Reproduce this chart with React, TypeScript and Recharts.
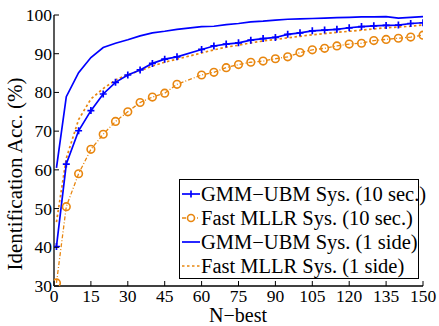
import { LineChart, Line, XAxis, YAxis } from "recharts";

const nBest = [1, 5, 10, 15, 20, 25, 30, 35, 40, 45, 50, 60, 65, 70, 75, 80, 85, 90, 95, 100, 105, 110, 115, 120, 125, 130, 135, 140, 145, 150];
const gmm10 = [40.2, 61.5, 70.1, 75.3, 79.6, 82.6, 84.5, 85.8, 87.5, 88.6, 89.2, 91.1, 92.0, 92.5, 92.8, 93.5, 93.9, 94.2, 95.0, 95.4, 95.9, 96.1, 96.3, 96.7, 97.0, 97.2, 97.3, 97.4, 97.8, 98.0];
const mllr10 = [30.8, 50.5, 59.0, 65.3, 69.2, 72.5, 75.0, 77.4, 78.8, 79.8, 82.1, 84.5, 85.2, 86.4, 87.2, 87.8, 88.1, 88.7, 89.2, 90.3, 91.0, 91.4, 92.0, 92.5, 92.7, 93.4, 93.7, 94.0, 94.3, 94.8];
const gmmSide = [60.5, 78.9, 85.1, 89.0, 91.6, 92.7, 93.6, 94.6, 95.4, 95.8, 96.3, 97.0, 97.1, 97.5, 97.8, 98.2, 98.4, 98.7, 98.9, 99.0, 99.1, 99.2, 99.3, 99.4, 99.5, 99.5, 99.6, 99.2, 99.4, 99.6];
const mllrSide = [46.5, 63.0, 73.0, 78.3, 81.0, 83.2, 84.6, 85.6, 86.8, 87.8, 88.6, 90.2, 91.0, 91.7, 92.2, 92.8, 93.3, 93.7, 94.1, 94.5, 94.9, 95.2, 95.5, 95.8, 96.1, 96.4, 96.7, 96.9, 97.1, 97.4];

const xTicks = [0, 15, 30, 45, 60, 75, 90, 105, 120, 135, 150];
const yTicks = [30, 40, 50, 60, 70, 80, 90, 100];

const legendLabels = [
  "GMM\u2212UBM Sys. (10 sec.)",
  "Fast MLLR Sys. (10 sec.)",
  "GMM\u2212UBM Sys. (1 side)",
  "Fast MLLR Sys. (1 side)",
];

const data = nBest.map((n, i) => ({
  n,
  gmm10: gmm10[i],
  mllr10: mllr10[i],
  gmmSide: gmmSide[i],
  mllrSide: mllrSide[i],
}));

const BLUE = "#0000ff";
const ORANGE = "#e8860f";
const FONT = "Liberation Serif, DejaVu Serif, serif";
const TICK = 5;

function PlusDot(props: any) {
  const { cx, cy } = props;
  if (cx == null || cy == null) return null;
  return (
    <path
      d={`M${cx - 3.5},${cy}H${cx + 3.5}M${cx},${cy - 3.5}V${cy + 3.5}`}
      stroke={BLUE}
      strokeWidth={1.7}
    />
  );
}

function CircleDot(props: any) {
  const { cx, cy } = props;
  if (cx == null || cy == null) return null;
  return <circle cx={cx} cy={cy} r={3.8} fill="none" stroke={ORANGE} strokeWidth={1.6} />;
}

function BottomTick(props: any) {
  const { x, y, payload } = props;
  return (
    <g>
      <line x1={x} x2={x} y1={y} y2={y - TICK} stroke="#000" />
      <text x={x} y={y + 16} textAnchor="middle" style={{ fontFamily: FONT, fontSize: 17.5 }} fill="#000">
        {payload.value}
      </text>
    </g>
  );
}

function LeftTick(props: any) {
  const { x, y, payload } = props;
  return (
    <g>
      <line x1={x} x2={x + TICK} y1={y} y2={y} stroke="#000" />
      <text x={x - 2} y={y + 6} textAnchor="end" style={{ fontFamily: FONT, fontSize: 17.5 }} fill="#000">
        {payload.value}
      </text>
    </g>
  );
}

function TopTick(props: any) {
  const { x, y } = props;
  return <line x1={x} x2={x} y1={y} y2={y + TICK} stroke="#000" />;
}

function RightTick(props: any) {
  const { x, y } = props;
  return <line x1={x} x2={x - TICK} y1={y} y2={y} stroke="#000" />;
}

function Sample({ index }: { index: number }) {
  return (
    <svg width={18} height={12} style={{ display: "block", flex: "none" }}>
      {index === 0 && (
        <>
          <line x1={0} x2={18} y1={6} y2={6} stroke={BLUE} strokeWidth={1.7} />
          <path d="M9,2.5V9.5" stroke={BLUE} strokeWidth={1.7} />
        </>
      )}
      {index === 1 && (
        <>
          <line x1={0} x2={18} y1={6} y2={6} stroke={ORANGE} strokeWidth={1.3} strokeDasharray="4 2 1 2" />
          <circle cx={9} cy={6} r={3.5} fill="#fff" stroke={ORANGE} strokeWidth={1.6} />
        </>
      )}
      {index === 2 && <line x1={0} x2={18} y1={6} y2={6} stroke={BLUE} strokeWidth={1.7} />}
      {index === 3 && (
        <line x1={0} x2={18} y1={6} y2={6} stroke={ORANGE} strokeWidth={1.7} strokeDasharray="2.5 2.5" />
      )}
    </svg>
  );
}

function LegendBox() {
  return (
    <div
      style={{
        position: "absolute",
        left: 179,
        top: 179,
        width: 238,
        height: 96,
        border: "1.5px solid #000",
        background: "#fff",
        fontFamily: FONT,
        fontSize: 20.5,
        color: "#000",
        paddingTop: 2,
      }}
    >
      {legendLabels.map((label, i) => (
        <div key={label} style={{ display: "flex", alignItems: "center", height: 24, paddingLeft: 2 }}>
          <Sample index={i} />
          <span style={{ marginLeft: 1, whiteSpace: "nowrap", lineHeight: "24px" }}>{label}</span>
        </div>
      ))}
    </div>
  );
}

export default function App() {
  return (
    <div style={{ position: "absolute", left: 0, top: 0, width: 439, height: 326, background: "#fff" }}>
      <LineChart width={439} height={326} data={data} margin={{ top: 15, right: 16, bottom: 0, left: 0 }}>
        <XAxis
          dataKey="n"
          type="number"
          domain={[0, 150]}
          ticks={xTicks}
          interval={0}
          height={40}
          tickSize={0}
          tickMargin={0}
          tickLine={false}
          axisLine={{ stroke: "#000", strokeWidth: 1.3 }}
          tick={<BottomTick />}
          allowDataOverflow
        />
        <XAxis
          xAxisId="top"
          orientation="top"
          dataKey="n"
          type="number"
          domain={[0, 150]}
          ticks={xTicks}
          interval={0}
          height={0}
          tickSize={0}
          tickMargin={0}
          tickLine={false}
          axisLine={{ stroke: "#000", strokeWidth: 1.3 }}
          tick={<TopTick />}
        />
        <YAxis
          type="number"
          domain={[30, 100]}
          ticks={yTicks}
          interval={0}
          width={54}
          tickSize={0}
          tickMargin={0}
          tickLine={false}
          axisLine={{ stroke: "#000", strokeWidth: 1.3 }}
          tick={<LeftTick />}
          allowDataOverflow
        />
        <YAxis
          yAxisId="right"
          orientation="right"
          type="number"
          domain={[30, 100]}
          ticks={yTicks}
          interval={0}
          width={0}
          tickSize={0}
          tickMargin={0}
          tickLine={false}
          axisLine={{ stroke: "#000", strokeWidth: 1.3 }}
          tick={<RightTick />}
        />
        <Line
          dataKey="gmmSide"
          type="linear"
          stroke={BLUE}
          strokeWidth={1.7}
          dot={false}
          isAnimationActive={false}
        />
        <Line
          dataKey="mllrSide"
          type="linear"
          stroke={ORANGE}
          strokeWidth={1.7}
          strokeDasharray="2.5 2.5"
          dot={false}
          isAnimationActive={false}
        />
        <Line
          dataKey="mllr10"
          type="linear"
          stroke={ORANGE}
          strokeWidth={1.3}
          strokeDasharray="4 2 1 2"
          dot={<CircleDot />}
          isAnimationActive={false}
        />
        <Line
          dataKey="gmm10"
          type="linear"
          stroke={BLUE}
          strokeWidth={1.7}
          dot={<PlusDot />}
          isAnimationActive={false}
        />
      </LineChart>
      <LegendBox />
      <svg width={439} height={326} style={{ position: "absolute", left: 0, top: 0, pointerEvents: "none" }}>
        <text
          x={22}
          y={174}
          transform="rotate(-90 22 174)"
          textAnchor="middle"
          style={{ fontFamily: FONT, fontSize: 21 }}
          fill="#000"
        >
          Identification Acc. (%)
        </text>
        <text x={238} y={322} textAnchor="middle" style={{ fontFamily: FONT, fontSize: 20 }} fill="#000">
          N{"\u2212"}best
        </text>
      </svg>
    </div>
  );
}
